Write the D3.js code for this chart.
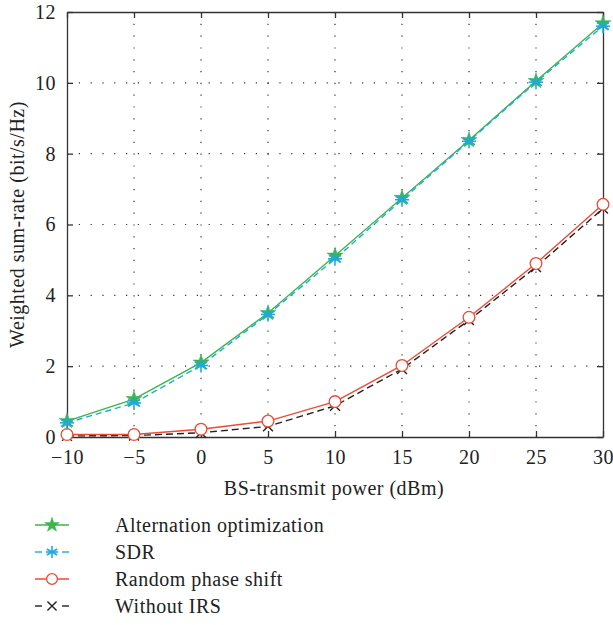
<!DOCTYPE html>
<html>
<head>
<meta charset="utf-8">
<script src="https://cdn.jsdelivr.net/npm/d3@7"></script>
<style>
  body { margin: 0; background: #fff; }
  svg text { font-family: "Liberation Serif", "DejaVu Serif", serif; fill: #222; }
</style>
</head>
<body>
<svg id="chart" width="613" height="625"></svg>
<script>
// data
const power = [-10, -5, 0, 5, 10, 15, 20, 25, 30]
const altOpt = [0.45, 1.07, 2.1, 3.5, 5.12, 6.75, 8.38, 10.05, 11.68]
const sdr = [0.4, 0.96, 2.02, 3.46, 5.03, 6.7, 8.35, 10.02, 11.6]
const randomPhase = [0.07, 0.07, 0.22, 0.45, 1.0, 2.02, 3.38, 4.9, 6.57]
const withoutIrs = [0.03, 0.04, 0.12, 0.3, 0.88, 1.92, 3.3, 4.8, 6.45]
const xTicks = [-10, -5, 0, 5, 10, 15, 20, 25, 30]
const yTicks = [0, 2, 4, 6, 8, 10, 12]

const series = [
  { name: 'Alternation optimization', values: altOpt, color: '#3db54a', dash: null, marker: 'star', z: 2 },
  { name: 'SDR', values: sdr, color: '#1fa9e1', dash: '6,4', marker: 'asterisk', z: 3 },
  { name: 'Random phase shift', values: randomPhase, color: '#ee4a35', dash: null, marker: 'circle', z: 1 },
  { name: 'Without IRS', values: withoutIrs, color: '#222', dash: '7,4', marker: 'cross', z: 0 }
]

const svg = d3.select('#chart')
const plotL = 67, plotR = 603, plotT = 12, plotB = 437

const x = d3.scaleLinear().domain([-10, 30]).range([plotL, plotR])
const y = d3.scaleLinear().domain([0, 12]).range([plotB, plotT])

// grid
const grid = svg.append('g')
grid.selectAll('line.gx')
  .data(xTicks.slice(1, -1))
  .enter().append('line')
  .attr('x1', d => x(d)).attr('x2', d => x(d))
  .attr('y1', plotT).attr('y2', plotB)
  .attr('stroke', '#333').attr('stroke-width', 1.2)
  .attr('stroke-dasharray', '1.2,10.6')
grid.selectAll('line.gy')
  .data(yTicks.slice(1, -1))
  .enter().append('line')
  .attr('y1', d => y(d)).attr('y2', d => y(d))
  .attr('x1', plotL).attr('x2', plotR)
  .attr('stroke', '#333').attr('stroke-width', 1.2)
  .attr('stroke-dasharray', '1.2,10.6')

// axes with inward ticks on every side
const styleAxis = g => {
  g.select('.domain').attr('stroke', '#333').attr('stroke-width', 1.3)
  g.selectAll('.tick line').attr('stroke', '#333').attr('stroke-width', 1.3)
  g.selectAll('.tick text').style('font-size', '20px').style('letter-spacing', '0.5px').attr('fill', '#222')
}
const fmt = d => d < 0 ? '\u2212' + Math.abs(d) : d

svg.append('g').attr('transform', `translate(0,${plotB})`)
  .call(d3.axisBottom(x).tickValues(xTicks).tickFormat(fmt).tickSizeInner(-6).tickSizeOuter(0).tickPadding(13))
  .call(styleAxis)
svg.append('g').attr('transform', `translate(0,${plotT})`)
  .call(d3.axisTop(x).tickValues(xTicks).tickFormat('').tickSizeInner(-6).tickSizeOuter(0))
  .call(styleAxis)
svg.append('g').attr('transform', `translate(${plotL},0)`)
  .call(d3.axisLeft(y).tickValues(yTicks).tickSizeInner(-6).tickSizeOuter(0).tickPadding(11))
  .call(styleAxis)
svg.append('g').attr('transform', `translate(${plotR},0)`)
  .call(d3.axisRight(y).tickValues(yTicks).tickFormat('').tickSizeInner(-6).tickSizeOuter(0))
  .call(styleAxis)

// axis titles
svg.append('text')
  .attr('x', (plotL + plotR) / 2 - 1).attr('y', 495)
  .attr('text-anchor', 'middle')
  .style('font-size', '20px').style('letter-spacing', '0.5px')
  .text('BS-transmit power (dBm)')
svg.append('text')
  .attr('transform', `translate(24,${(plotT + plotB) / 2}) rotate(-90)`)
  .attr('text-anchor', 'middle')
  .style('font-size', '20px').style('letter-spacing', '0.5px')
  .text('Weighted sum-rate (bit/s/Hz)')

// markers
function drawMarker (g, type, color, size) {
  if (type === 'star') {
    g.append('path')
      .attr('d', d3.symbol(d3.symbolStar, size * size * 0.55)())
      .attr('fill', color).attr('stroke', color).attr('stroke-width', 0.5)
  } else if (type === 'asterisk') {
    const r = size * 0.5
    for (let k = 0; k < 3; k++) {
      const a = Math.PI / 2 + k * Math.PI / 3
      g.append('line')
        .attr('x1', -r * Math.cos(a)).attr('y1', -r * Math.sin(a))
        .attr('x2', r * Math.cos(a)).attr('y2', r * Math.sin(a))
        .attr('stroke', color).attr('stroke-width', 1.6)
    }
    g.append('line').attr('x1', -r).attr('x2', r).attr('y1', 0).attr('y2', 0)
      .attr('stroke', color).attr('stroke-width', 1.6)
  } else if (type === 'circle') {
    g.append('circle').attr('r', size * 0.45)
      .attr('fill', '#fff').attr('stroke', color).attr('stroke-width', 1.3)
  } else if (type === 'cross') {
    const r = size * 0.38
    g.append('path')
      .attr('d', `M${-r},${-r}L${r},${r}M${-r},${r}L${r},${-r}`)
      .attr('stroke', color).attr('stroke-width', 1.4)
  }
}

const line = d3.line().x((d, i) => x(power[i])).y(d => y(d))
const ordered = series.slice().sort((a, b) => a.z - b.z)

// lines first, then markers, so cyan asterisks sit over green stars
ordered.forEach(s => {
  svg.append('path')
    .datum(s.values)
    .attr('d', line)
    .attr('fill', 'none')
    .attr('stroke', s.color)
    .attr('stroke-width', 1.4)
    .attr('stroke-dasharray', s.dash)
})
ordered.forEach(s => {
  s.values.forEach((v, i) => {
    const g = svg.append('g').attr('transform', `translate(${x(power[i])},${y(v)})`)
    const sz = s.marker === 'star' ? 12 : s.marker === 'asterisk' ? 14 : 13
    drawMarker(g, s.marker, s.color, sz)
  })
})

// legend
const legend = svg.append('g')
series.forEach((s, i) => {
  const ly = 525 + i * 27
  const lg = legend.append('g').attr('transform', `translate(0,${ly})`)
  if (s.dash) {
    lg.append('line').attr('x1', 35).attr('x2', 42).attr('stroke', s.color).attr('stroke-width', 1.4)
    lg.append('line').attr('x1', 62).attr('x2', 69).attr('stroke', s.color).attr('stroke-width', 1.4)
  } else {
    lg.append('line').attr('x1', 35).attr('x2', 69).attr('stroke', s.color).attr('stroke-width', 1.4)
  }
  const mg = lg.append('g').attr('transform', 'translate(52,0)')
  drawMarker(mg, s.marker, s.color, s.marker === 'star' ? 11 : 12)
  lg.append('text')
    .attr('x', 115).attr('y', 7)
    .style('font-size', '20px').style('letter-spacing', '0.5px')
    .text(s.name)
})
</script>
</body>
</html>
